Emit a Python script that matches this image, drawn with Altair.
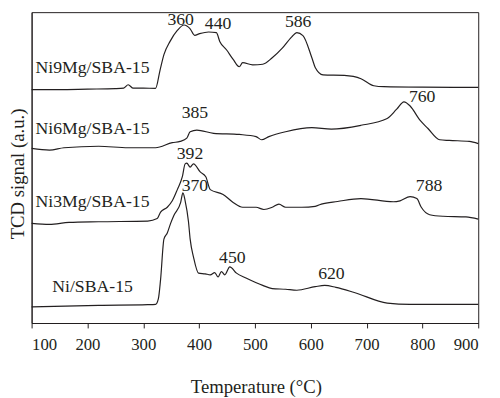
import altair as alt
import pandas as pd

# ---- data (temperature in °C, signal in arbitrary units) ----
series_names = ["Ni9Mg/SBA-15", "Ni6Mg/SBA-15", "Ni3Mg/SBA-15", "Ni/SBA-15"]

ni9_t = [100, 150, 200, 250, 265, 273, 282, 300, 322, 330, 337, 348, 361, 373, 384, 392, 401, 417, 431, 437,
         449, 461, 472, 478, 496, 514, 531, 549, 566, 575, 586, 602, 608, 622, 660, 690, 713, 731, 800, 900]
ni9_s = [242, 242, 242.5, 243, 243.5, 247, 243.5, 243.5, 243.3, 262, 278.3, 292, 303.3, 309, 305, 298.3, 300, 301.7, 301, 292,
         283.3, 273.3, 265.7, 270, 267.7, 268.3, 275, 285, 296.7, 301, 298, 275, 265, 257.3, 256.7, 253.3, 246, 245, 244.5, 244.3]

ni6_t = [100, 132, 158, 220, 273, 322, 352, 366, 378, 384, 396, 426, 472, 502, 512, 525, 555, 602, 637, 690,
         736, 754, 767, 778, 796, 810, 831, 848, 884, 900]
ni6_s = [181, 179.3, 181.7, 183.3, 181.7, 181.7, 187, 188.3, 191.7, 198.3, 200, 196.7, 195.5, 193.3, 190, 193.3, 198.3, 202.5, 201, 205,
         211.7, 221.7, 229.3, 225, 210, 201.7, 190, 189.3, 188.3, 186]

ni3_t = [100, 132, 167, 220, 308, 325, 331, 343, 352, 361, 370, 375, 378, 384, 390, 402, 412, 420, 443, 461,
         478, 502, 516, 531, 543, 555, 584, 608, 619, 648, 690, 748, 760, 778, 790, 798, 813, 837, 878, 900]
ni3_s = [103.3, 102.3, 104.3, 105, 105.7, 108.3, 115, 120, 126.7, 138.3, 151.7, 165, 165.7, 161.7, 165, 156.7, 151.7, 138.3, 133.3, 125,
         120, 120, 117.7, 120, 123.3, 120, 120, 121, 123.3, 126, 129, 125.7, 126.7, 131, 129, 120, 112.3, 110.7, 110, 107.7]

ni_t = [100, 220, 308, 322, 327, 331, 337, 343, 349, 355, 367, 371, 375, 381, 384, 390, 399, 411, 420, 428,
        434, 440, 446, 455, 467, 484, 514, 531, 555, 575, 608, 625, 645, 678, 737, 778, 900]
ni_s = [16.7, 18.3, 19, 19.3, 25, 45, 87, 93.3, 103.3, 111.7, 125, 135, 126.7, 105, 87, 68.3, 51.7, 51, 50, 52.3,
        47.7, 53.3, 50, 58.3, 51.7, 46.7, 39, 35.7, 35, 34, 37.7, 39, 37, 31.7, 20.7, 19.3, 19.3]

label_t = [107, 107, 107, 137]
label_s = [264, 201, 125, 37]

peak_text = ["360", "440", "586", "385", "760", "392", "370", "788", "450", "620"]
peak_t = [367, 434, 577.5, 392.5, 799.6, 383.7, 392.5, 812, 459.5, 637]
peak_s = [314.5, 310, 312, 217.5, 234, 175.5, 141.7, 141.7, 67.7, 51]

x_ticks = list(range(100, 901, 50))

# ---- tables ----
rows = []
for name, ts, ss in zip(series_names, [ni9_t, ni6_t, ni3_t, ni_t], [ni9_s, ni6_s, ni3_s, ni_s]):
    for t, s in zip(ts, ss):
        rows.append({"series": name, "T": t, "S": s})
curves = pd.DataFrame(rows)
labels = pd.DataFrame({"text": series_names, "T": label_t, "S": label_s})
peaks = pd.DataFrame({"text": peak_text, "T": peak_t, "S": peak_s})

FONT = "Liberation Serif"
INK = "#231f20"

x_scale = alt.Scale(domain=[100, 900], nice=False, zero=False)
y_scale = alt.Scale(domain=[0, 322.3], nice=False, zero=False)

x_axis = alt.Axis(
    title="Temperature (°C)",
    values=x_ticks,
    labelExpr="datum.value % 100 === 0 ? datum.label : ''",
    tickSize={"condition": {"test": "datum.value % 100 === 0", "value": 5}, "value": 3},
    grid=False,
    labelFont=FONT, labelFontSize=17, labelColor=INK, labelPadding=9,
    titleFont=FONT, titleFontSize=19, titleFontWeight="normal", titleColor=INK,
    titleX=228, titleY=65, titleBaseline="middle", titleAnchor="middle",
    domainColor=INK, tickColor=INK,
)
y_axis = alt.Axis(
    title="TCD signal (a.u.)",
    ticks=False, labels=False, grid=False,
    titleFont=FONT, titleFontSize=19, titleFontWeight="normal", titleColor=INK,
    titleX=-8, titleY=164, titleBaseline="alphabetic", titleAlign="center", titleAngle=270,
    domainColor=INK,
)

lines = alt.Chart(curves).mark_line(color=INK, strokeWidth=1.2, interpolate="monotone").encode(
    x=alt.X("T:Q", scale=x_scale, axis=x_axis),
    y=alt.Y("S:Q", scale=y_scale, axis=y_axis),
    detail="series:N",
)

series_text = alt.Chart(labels).mark_text(
    font=FONT, fontSize=18, color=INK, align="left", baseline="middle"
).encode(x=alt.X("T:Q", scale=x_scale), y=alt.Y("S:Q", scale=y_scale), text="text:N")

peak_labels = alt.Chart(peaks).mark_text(
    font=FONT, fontSize=18, color=INK, align="center", baseline="middle"
).encode(x=alt.X("T:Q", scale=x_scale), y=alt.Y("S:Q", scale=y_scale), text="text:N")

chart = alt.layer(lines, series_text, peak_labels).properties(
    width=454, height=316,
    autosize=alt.AutoSizeParams(type="none"),
    padding={"left": 24, "top": 1, "right": 14, "bottom": 73},
    background="white",
).configure_view(stroke=INK, strokeWidth=1)

chart.save("out.html", embed_options={"renderer": "svg", "actions": False})
